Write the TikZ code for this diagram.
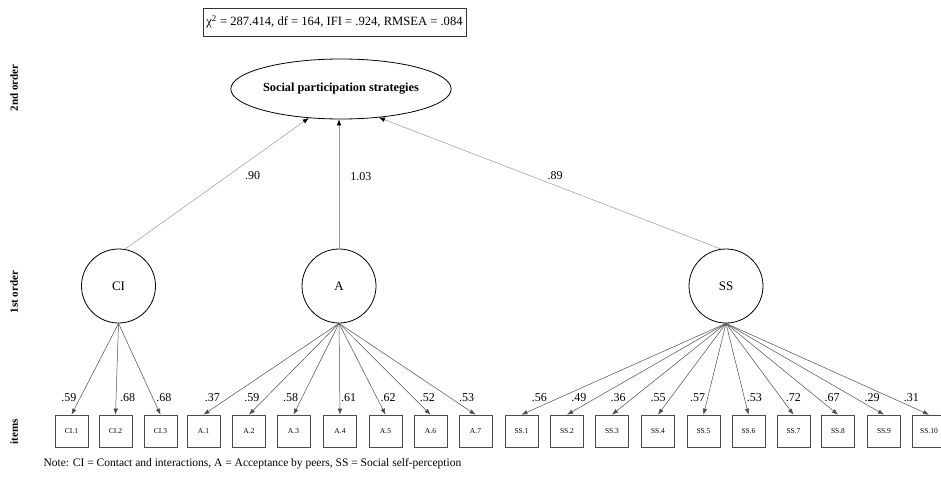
\documentclass[tikz,border=0pt]{standalone}
\usepackage{fontspec}
\setmainfont{Liberation Serif}
\usetikzlibrary{shapes.geometric,arrows.meta}
\tikzset{
  indicator/.style={draw=black!70, line width=0.7pt, minimum width=33pt, minimum height=32pt, inner sep=0pt, font=\fontsize{7.5}{8}\selectfont},
  factor/.style={circle, draw, line width=0.8pt, minimum size=74pt, inner sep=0pt, font=\fontsize{13}{15}\selectfont},
  loading/.style={inner sep=1pt, font=\fontsize{12}{13}\selectfont},
  firstpath/.style={draw=black!70, line width=0.5pt, -{Latex[length=6pt,width=4.5pt]}},
  secondpath/.style={draw=black!40, line width=0.5pt, -{Latex[length=6pt,width=4.5pt,color=black]}},
  levelname/.style={rotate=90, font=\bfseries\fontsize{11}{12}\selectfont}
}
\begin{document}
\begin{tikzpicture}[x=1pt, y=-1pt]
\useasboundingbox (0,0) rectangle (941,484);
\clip (0,0) rectangle (941,484);
\node[draw=black!80, line width=0.7pt, minimum width=263pt, minimum height=28pt, font=\fontsize{12.6}{13}\selectfont] (fit) at (334.5,22) {χ\textsuperscript{2} = 287.414, df = 164, IFI = .924, RMSEA = .084};
\node[levelname] (ord2) at (14,88) {2nd order};
\node[levelname] (ord1) at (14,292) {1st order};
\node[levelname] (itm) at (14,432) {items};
\node[ellipse, draw, line width=0.8pt, inner sep=0pt, minimum width=215pt, minimum height=60pt, font=\bfseries\fontsize{12.3}{13}\selectfont] (spf) at (341,89) {Social participation strategies};
\node[factor] (CI) at (118.5,286) {CI};
\node[factor] (A) at (339,286) {A};
\node[factor] (SS) at (726,286) {SS};
\node[indicator] (ci1) at (71.5,431) {CI.1};
\node[indicator] (ci2) at (115.5,431) {CI.2};
\node[indicator] (ci3) at (160.5,431) {CI.3};
\node[indicator] (a1) at (203.5,431) {A.1};
\node[indicator] (a2) at (249,431) {A.2};
\node[indicator] (a3) at (293.5,431) {A.3};
\node[indicator] (a4) at (340,431) {A.4};
\node[indicator] (a5) at (385.5,431) {A.5};
\node[indicator] (a6) at (430.5,431) {A.6};
\node[indicator] (a7) at (475.5,431) {A.7};
\node[indicator] (ss1) at (521.5,431) {SS.1};
\node[indicator] (ss2) at (567,431) {SS.2};
\node[indicator] (ss3) at (612,431) {SS.3};
\node[indicator] (ss4) at (658,431) {SS.4};
\node[indicator] (ss5) at (703.5,431) {SS.5};
\node[indicator] (ss6) at (748.5,431) {SS.6};
\node[indicator] (ss7) at (793.5,431) {SS.7};
\node[indicator] (ss8) at (838,431) {SS.8};
\node[indicator] (ss9) at (884,431) {SS.9};
\node[indicator] (ss10) at (929,431) {SS.10};
\draw[secondpath] (CI.80) -- (spf.222) node[loading, pos=0.56, anchor=west, xshift=16pt] {.90};
\draw[secondpath] (A.north) -- (spf.south -| A.north) node[loading, pos=0.56, anchor=west, xshift=10pt] {1.03};
\draw[secondpath] (SS.98) -- (spf.323) node[loading, pos=0.56, anchor=west, xshift=17pt] {.89};
\draw[firstpath] (CI.south) -- (ci1.north) node[loading, pos=0.87, anchor=south east] {.59};
\draw[firstpath] (CI.south) -- (ci2.north) node[loading, pos=0.87, anchor=south west, xshift=3pt] {.68};
\draw[firstpath] (CI.south) -- (ci3.north) node[loading, pos=0.87, anchor=south west] {.68};
\draw[firstpath] (A.south) -- (a1.north) node[loading, pos=0.87, anchor=south east] {.37};
\draw[firstpath] (A.south) -- (a2.north) node[loading, pos=0.87, anchor=south east] {.59};
\draw[firstpath] (A.south) -- (a3.north) node[loading, pos=0.87, anchor=south east] {.58};
\draw[firstpath] (A.south) -- (a4.north) node[loading, pos=0.87, anchor=south west] {.61};
\draw[firstpath] (A.south) -- (a5.north) node[loading, pos=0.87, anchor=south west] {.62};
\draw[firstpath] (A.south) -- (a6.north) node[loading, pos=0.87, anchor=south west] {.52};
\draw[firstpath] (A.south) -- (a7.north) node[loading, pos=0.87, anchor=south west] {.53};
\draw[firstpath] (SS.south) -- (ss1.north) node[loading, pos=0.87, anchor=south east] {.56};
\draw[firstpath] (SS.south) -- (ss2.north) node[loading, pos=0.87, anchor=south east] {.49};
\draw[firstpath] (SS.south) -- (ss3.north) node[loading, pos=0.87, anchor=south east] {.36};
\draw[firstpath] (SS.south) -- (ss4.north) node[loading, pos=0.87, anchor=south east] {.55};
\draw[firstpath] (SS.south) -- (ss5.north) node[loading, pos=0.87, anchor=south east] {.57};
\draw[firstpath] (SS.south) -- (ss6.north) node[loading, pos=0.87, anchor=south west] {.53};
\draw[firstpath] (SS.south) -- (ss7.north) node[loading, pos=0.87, anchor=south west] {.72};
\draw[firstpath] (SS.south) -- (ss8.north) node[loading, pos=0.87, anchor=south west] {.67};
\draw[firstpath] (SS.south) -- (ss9.north) node[loading, pos=0.87, anchor=south west] {.29};
\draw[firstpath] (SS.south) -- (ss10.north) node[loading, pos=0.87, anchor=south west] {.31};
\node[anchor=west, font=\fontsize{11.5}{13}\selectfont] (note) at (40,464) {Note: CI = Contact and interactions, A = Acceptance by peers, SS = Social self-perception};
\end{tikzpicture}
\end{document}
